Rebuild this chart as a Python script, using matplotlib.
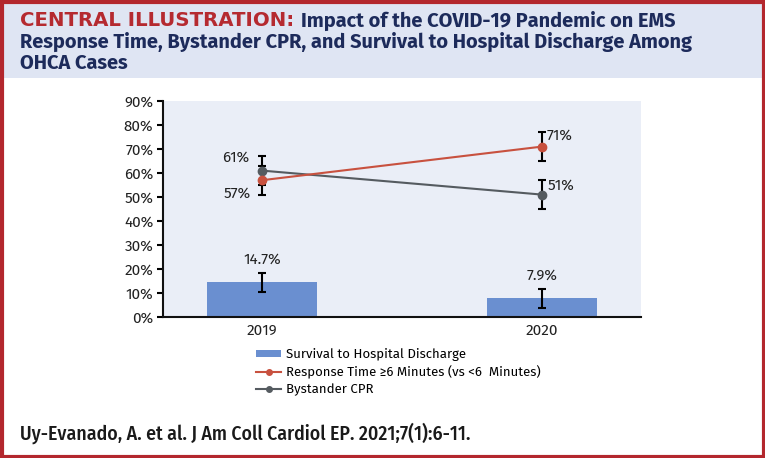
import matplotlib.pyplot as plt
from matplotlib.patches import Rectangle
from matplotlib.lines import Line2D
from matplotlib.ticker import FuncFormatter

years = ["2019", "2020"]
survival = [14.7, 7.9]
survival_lo = [10.5, 3.9]
survival_hi = [18.2, 11.5]
response = [57, 71]
response_lo = [51, 65]
response_hi = [63, 77]
cpr = [61, 51]
cpr_lo = [55, 45]
cpr_hi = [67, 57]
yticks = [0, 10, 20, 30, 40, 50, 60, 70, 80, 90]

BLUE = '#6a8fd0'
RED = '#c8513f'
GRAY = '#555b60'
NAVY = '#1d2b5b'
BORDER = '#b3272d'

hfont = ['DejaVu Sans']
tfont = ['Fira Sans', 'DejaVu Sans']
cfont = ['Fira Sans Condensed', 'DejaVu Sans']
bfont = ['Fira Sans', 'Open Sans', 'DejaVu Sans']

W, H = 765, 458
fig = plt.figure(figsize=(W / 100, H / 100), dpi=100)
fig.patch.set_facecolor('white')

# title band + red frame
fig.patches.append(Rectangle((0, 1 - 78 / H), 1, 78 / H, transform=fig.transFigure,
                             facecolor='#dfe5f3', edgecolor='none', zorder=0))
fig.patches.append(Rectangle((1.5 / W, 1.5 / H), 1 - 3 / W, 1 - 3 / H, transform=fig.transFigure,
                             facecolor='none', edgecolor=BORDER, linewidth=3, zorder=5))

tsize = 14.4
red_txt = fig.text(20 / W, 1 - 21 / H, "CENTRAL ILLUSTRATION:", color='#b52a30', fontsize=14.2,
                   fontweight='bold', family=hfont, va='center')
fig.canvas.draw()
bb = red_txt.get_window_extent(fig.canvas.get_renderer())
fig.text((bb.x1 + 7) / W, 1 - 21 / H, "Impact of the COVID-19 Pandemic on EMS", color=NAVY,
         fontsize=tsize, fontweight='bold', family=tfont, va='center')
lines = ["Response Time, Bystander CPR, and Survival to Hospital Discharge Among",
         "OHCA Cases"]
for i, s in enumerate(lines):
    fig.text(20 / W, 1 - (42 + 21 * i) / H, s, color=NAVY, fontsize=tsize,
             fontweight='bold', family=tfont, va='center')

fig.text(20 / W, 1 - 433 / H, "Uy-Evanado, A. et al. J Am Coll Cardiol EP. 2021;7(1):6-11.",
         color='#1a1a1a', fontsize=14.2, fontweight='medium', family=cfont, va='center')

ax = fig.add_axes([163 / W, 1 - 317 / H, (641 - 163) / W, (317 - 101) / H])
ax.set_facecolor('#eaeef7')
x = [0, 1]

ax.bar(x, survival, width=0.396, color=BLUE, zorder=2)
err_kw = dict(fmt='none', ecolor='black', elinewidth=1.5, capsize=3, capthick=1.5, zorder=3)
ax.errorbar(x, survival, yerr=[[s - l for s, l in zip(survival, survival_lo)],
                               [h - s for s, h in zip(survival, survival_hi)]], **err_kw)
ax.errorbar(x, cpr, yerr=[[v - l for v, l in zip(cpr, cpr_lo)],
                          [h - v for v, h in zip(cpr, cpr_hi)]], **err_kw)
ax.errorbar(x, response, yerr=[[v - l for v, l in zip(response, response_lo)],
                               [h - v for v, h in zip(response, response_hi)]], **err_kw)
ax.plot(x, cpr, color=GRAY, marker='o', markersize=6, linewidth=1.5, zorder=4)
ax.plot(x, response, color=RED, marker='o', markersize=6, linewidth=1.5, zorder=5)

lab = dict(fontsize=11, color='#222222', family=bfont)
ax.annotate(f"{cpr[0]}%", (0, cpr[0]), xytext=(-26, 13), textcoords='offset pixels',
            ha='center', va='center', **lab)
ax.annotate(f"{response[0]}%", (0, response[0]), xytext=(-25, -13), textcoords='offset pixels',
            ha='center', va='center', **lab)
ax.annotate(f"{response[1]}%", (1, response[1]), xytext=(5, 11), textcoords='offset pixels',
            ha='left', va='center', **lab)
ax.annotate(f"{cpr[1]}%", (1, cpr[1]), xytext=(6, 9), textcoords='offset pixels',
            ha='left', va='center', **lab)
for xi, v in zip(x, survival):
    ax.annotate(f"{v}%", (xi, v), xytext=(0, 22), textcoords='offset pixels',
                ha='center', va='center', **lab)

ax.set_xlim(-0.354, 1.354)
ax.set_ylim(0, 90)
ax.set_yticks(yticks)
ax.yaxis.set_major_formatter(FuncFormatter(lambda v, p: f"{v:.0f}%"))
ax.set_xticks(x)
ax.set_xticklabels(years)
ax.tick_params(axis='x', length=0, pad=5)
ax.tick_params(axis='y', length=4, width=1.5, pad=3)
for t in ax.get_xticklabels() + ax.get_yticklabels():
    t.set_fontsize(11)
    t.set_family(bfont)
    t.set_color('#222222')
for s in ['top', 'right']:
    ax.spines[s].set_visible(False)
for s in ['left', 'bottom']:
    ax.spines[s].set_linewidth(1.5)
    ax.spines[s].set_color('#111111')

handles = [Rectangle((0, 0), 1, 1, facecolor=BLUE),
           Line2D([], [], color=RED, marker='o', markersize=4, linewidth=1.5),
           Line2D([], [], color=GRAY, marker='o', markersize=4, linewidth=1.5)]
labels = ["Survival to Hospital Discharge",
          "Response Time \u22656 Minutes (vs <6  Minutes)",
          "Bystander CPR"]
fig.legend(handles, labels, loc='upper left', bbox_to_anchor=(256 / W, 1 - 348 / H),
           frameon=False, handlelength=1.9, handleheight=0.5,
           handletextpad=0.4, labelspacing=0.35, borderaxespad=0, borderpad=0,
           prop={'family': bfont, 'size': 9.5})

fig.savefig('out.png', dpi=100)
